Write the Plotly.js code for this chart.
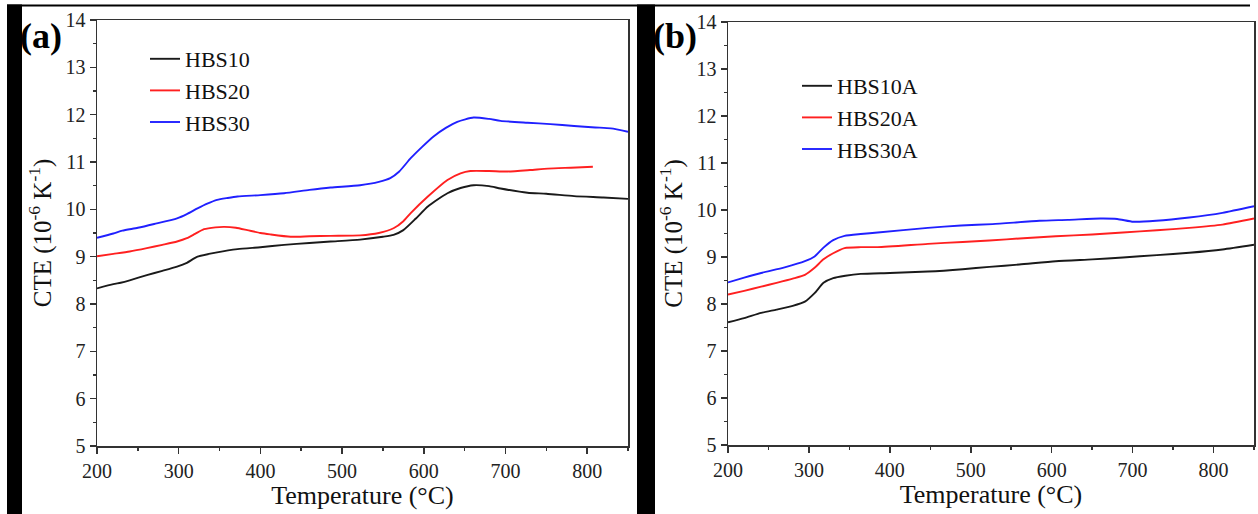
<!DOCTYPE html>
<html>
<head>
<meta charset="utf-8">
<script src="https://cdn.plot.ly/plotly-3.0.1.min.js"></script>
<style>html,body{margin:0;padding:0;background:#fff;}#chart{width:1258px;height:514px;}</style>
</head>
<body>
<div id="chart"></div>
<script>
// Panel (a)
const tA_10 = [200,220,229,240,261,280,298,310,323,347,372,400,429,460,486,522,550,563,575,590,605,629,645,661,680,694,727,750,784,820,850];
const vA_10 = [8.33,8.42,8.45,8.50,8.61,8.70,8.79,8.87,9.00,9.09,9.16,9.20,9.25,9.29,9.32,9.36,9.42,9.46,9.56,9.80,10.06,10.34,10.45,10.51,10.49,10.44,10.35,10.33,10.28,10.25,10.22];
const tA_20 = [200,220,240,261,280,298,310,320,331,345,356,370,384,400,412,437,460,486,522,545,563,575,584,605,629,645,657,680,703,730,752,780,807];
const vA_20 = [9.01,9.06,9.11,9.18,9.25,9.32,9.39,9.48,9.58,9.62,9.63,9.61,9.56,9.50,9.47,9.42,9.43,9.44,9.45,9.50,9.60,9.75,9.92,10.27,10.62,10.76,10.81,10.81,10.80,10.83,10.86,10.88,10.90];
const tA_30 = [200,220,231,250,270,298,310,323,335,347,360,372,400,429,460,486,522,545,559,570,584,598,612,627,641,661,680,694,727,755,784,810,829,850];
const vA_30 = [9.40,9.49,9.55,9.61,9.69,9.81,9.90,10.02,10.12,10.20,10.24,10.27,10.30,10.34,10.41,10.46,10.51,10.58,10.66,10.80,11.08,11.32,11.54,11.72,11.85,11.94,11.91,11.87,11.83,11.80,11.76,11.73,11.71,11.64];
// Panel (b)
const tB_10 = [200,220,241,260,280,295,307,318,330,345,364,400,447,490,523,560,605,650,688,730,770,811,850];
const vB_10 = [7.61,7.70,7.81,7.88,7.96,8.05,8.23,8.45,8.55,8.60,8.64,8.66,8.69,8.74,8.79,8.84,8.91,8.95,8.99,9.04,9.09,9.16,9.26];
const tB_20 = [200,220,241,260,280,295,307,318,330,344,364,385,447,490,523,565,605,650,688,730,770,811,850];
const vB_20 = [8.20,8.28,8.37,8.45,8.54,8.62,8.77,8.95,9.08,9.19,9.21,9.21,9.28,9.32,9.35,9.40,9.44,9.48,9.52,9.57,9.62,9.69,9.82];
const tB_30 = [200,220,241,270,295,307,318,330,344,364,385,447,488,527,585,620,660,681,701,729,770,811,850];
const vB_30 = [8.46,8.56,8.66,8.78,8.91,9.01,9.20,9.36,9.45,9.49,9.52,9.62,9.67,9.70,9.77,9.79,9.82,9.81,9.75,9.77,9.84,9.94,10.08];

const namesA = ['HBS10','HBS20','HBS30'];
const namesB = ['HBS10A','HBS20A','HBS30A'];
const colors = ['#1a1a1a','#ff2020','#2020ff'];
const xTicks = [200,300,400,500,600,700,800];
const yTicks = [5,6,7,8,9,10,11,12,13,14];

const FONT = 'Liberation Serif, Times New Roman, serif';
function tr(x,y,name,c,xa,ya,leg){
  return {x:x,y:y,name:name,type:'scatter',mode:'lines',line:{color:c,width:1.9,shape:'spline',smoothing:0.6},xaxis:xa,yaxis:ya,legend:leg};
}
const data = [
  tr(tA_10,vA_10,namesA[0],colors[0],'x','y','legend'),
  tr(tA_20,vA_20,namesA[1],colors[1],'x','y','legend'),
  tr(tA_30,vA_30,namesA[2],colors[2],'x','y','legend'),
  tr(tB_10,vB_10,namesB[0],colors[0],'x2','y2','legend2'),
  tr(tB_20,vB_20,namesB[1],colors[1],'x2','y2','legend2'),
  tr(tB_30,vB_30,namesB[2],colors[2],'x2','y2','legend2')
];

function xax(dom, anchor){
  return {domain:dom, anchor:anchor, range:[200,850], tickvals:xTicks, ticks:'outside', ticklen:6, tickwidth:1.5, tickcolor:'#333',
    showline:true, linecolor:'#333', linewidth:1.5, mirror:true, showgrid:false, zeroline:false,
    tickfont:{family:FONT,size:20,color:'#222'},
    minor:{ticks:'outside', ticklen:3, tickwidth:1.5, tickcolor:'#333', dtick:50, tick0:200, showgrid:false},
    title:{text:'Temperature (°C)', font:{family:FONT,size:26,color:'#111'}, standoff:5}};
}
function yax(dom, anchor){
  return {domain:dom, anchor:anchor, range:[5,14], tickvals:yTicks, ticks:'outside', ticklen:6, tickwidth:1.5, tickcolor:'#333',
    showline:true, linecolor:'#333', linewidth:1.5, mirror:true, showgrid:false, zeroline:false,
    tickfont:{family:FONT,size:20,color:'#222'},
    minor:{ticks:'outside', ticklen:3, tickwidth:1.5, tickcolor:'#333', dtick:0.5, tick0:5, showgrid:false},
    title:{text:'CTE (10<sup>-6</sup> K<sup>-1</sup>)', font:{family:FONT,size:25,color:'#111'}, standoff:7}};
}
const legBase = {bgcolor:'rgba(0,0,0,0)', borderwidth:0, font:{family:FONT,size:22,color:'#111'}, xanchor:'left', yanchor:'top', tracegroupgap:0};

const layout = {
  width:1258, height:514, margin:{l:0,r:0,t:0,b:0}, paper_bgcolor:'#fff', plot_bgcolor:'#fff',
  showlegend:true,
  xaxis: xax([97/1258, 628/1258],'y'),
  yaxis: yax([1-446/514, 1-20/514],'x'),
  xaxis2: xax([728/1258, 1254/1258],'y2'),
  yaxis2: yax([1-445/514, 1-22/514],'x2'),
  legend: Object.assign({}, legBase, {x:145/1258, y:1-38/514}),
  legend2: Object.assign({}, legBase, {x:797/1258, y:1-65/514}),
  shapes:[
    {type:'rect', xref:'paper', yref:'paper', x0:7/1258, x1:22/1258, y0:0, y1:1-4.5/514, fillcolor:'#000', line:{width:0}},
    {type:'rect', xref:'paper', yref:'paper', x0:637/1258, x1:655/1258, y0:0, y1:1-4.5/514, fillcolor:'#000', line:{width:0}},
    {type:'rect', xref:'paper', yref:'paper', x0:7/1258, x1:1250/1258, y0:1-6.5/514, y1:1-4.5/514, fillcolor:'#000', line:{width:0}}
  ],
  annotations:[
    {text:'<b>(a)</b>', xref:'paper', yref:'paper', x:41/1258, y:1-36/514, xanchor:'center', yanchor:'middle', showarrow:false, font:{family:FONT,size:36,color:'#000'}},
    {text:'<b>(b)</b>', xref:'paper', yref:'paper', x:675/1258, y:1-36/514, xanchor:'center', yanchor:'middle', showarrow:false, font:{family:FONT,size:36,color:'#000'}}
  ]
};
Plotly.newPlot('chart', data, layout, {displayModeBar:false, staticPlot:true});
</script>
</body>
</html>
